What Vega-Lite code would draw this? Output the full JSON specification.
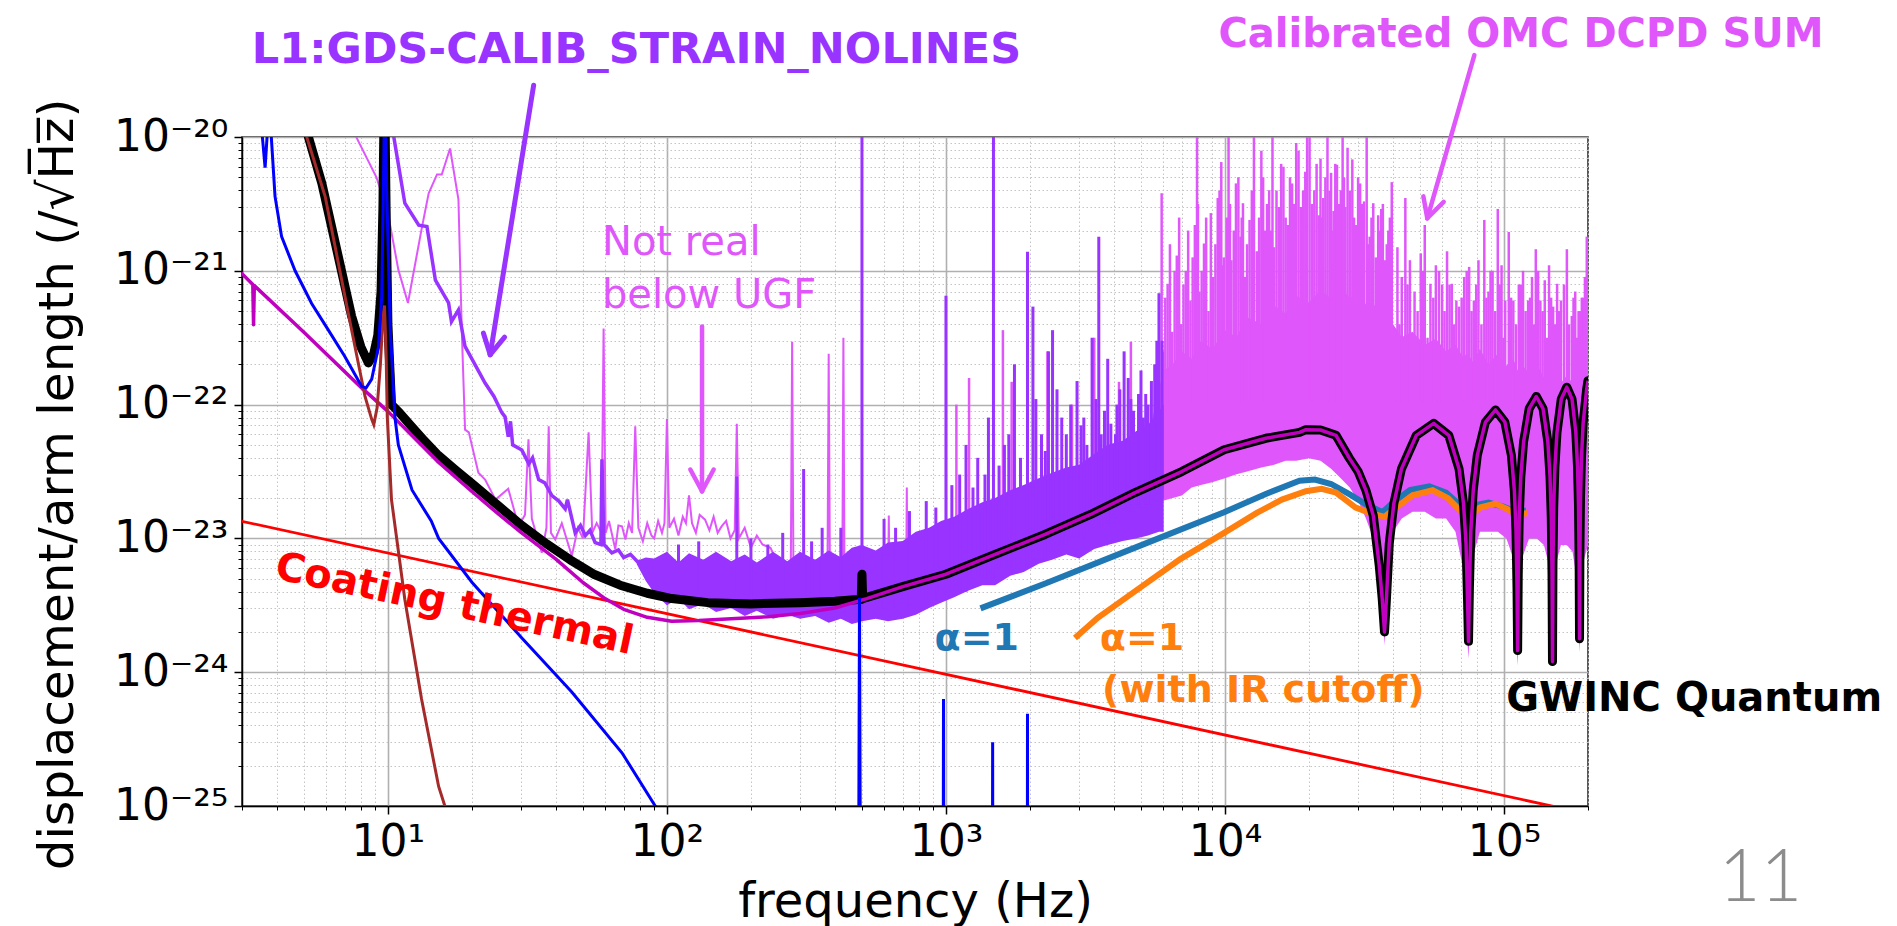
{
"$schema": "https://vega.github.io/schema/vega-lite/v6.json",
"width": 1346,
"height": 669,
"autosize": {"type": "none"},
"padding": {"left": 242, "top": 137, "right": 309, "bottom": 120},
"background": "white",
"config": {"font": "DejaVu Sans", "view": {"stroke": "#222222", "strokeWidth": 1.5}},
"datasets": {
"coating": [{"f":2.96,"h":1.35e-23},{"f":200000,"h":8.73e-26}],
"seismic": [{"f":4.8,"h":1.6e-20},{"f":5.12,"h":1.0e-20},{"f":5.96,"h":3.59e-21},{"f":6.64,"h":1.15e-21},{"f":7.41,"h":3.63e-22},{"f":8.28,"h":1.15e-22},{"f":8.75,"h":7.76e-23},{"f":8.9,"h":7.08e-23},{"f":9.15,"h":9.5e-23},{"f":9.4,"h":2.0e-22},{"f":9.6,"h":4.5e-22},{"f":9.72,"h":5.5e-22},{"f":9.85,"h":2.5e-22},{"f":9.95,"h":8e-23},{"f":10.3,"h":1.95e-23},{"f":11.5,"h":3.5e-24},{"f":13.2,"h":6.3e-25},{"f":15.2,"h":1.4e-25},{"f":16.0,"h":1.0e-25},{"f":17.5,"h":5e-26}],
"susp": [{"f":3.45,"h":2e-20},{"f":3.55,"h":1.0e-20},{"f":3.63,"h":5.9e-21},{"f":3.71,"h":1.2e-20},{"f":3.76,"h":3e-20},{"f":3.81,"h":1.1e-20},{"f":3.94,"h":3.6e-21},{"f":4.16,"h":1.8e-21},{"f":4.65,"h":1.0e-21},{"f":5.33,"h":5.7e-22},{"f":6.12,"h":3.6e-22},{"f":7.0,"h":2.3e-22},{"f":8.05,"h":1.37e-22},{"f":8.35,"h":1.33e-22},{"f":8.75,"h":1.55e-22},{"f":9.25,"h":2.7e-22},{"f":9.5,"h":6.4e-22},{"f":9.63,"h":3.6e-21},{"f":9.75,"h":3e-20},{"f":9.9,"h":4e-21},{"f":10.2,"h":3.6e-22},{"f":10.6,"h":8.0e-23},{"f":10.9,"h":5.0e-23},{"f":12.2,"h":2.3e-23},{"f":14.3,"h":1.35e-23},{"f":15.2,"h":1.0e-23},{"f":20,"h":4.7e-24},{"f":30.2,"h":1.8e-24},{"f":45.6,"h":7.1e-25},{"f":69,"h":2.5e-25},{"f":90.8,"h":1.0e-25},{"f":130,"h":4e-26},{"f":484,"h":1e-27},{"f":490,"h":3.6e-24},{"f":496,"h":1e-27},{"f":975,"h":1e-27},{"f":980,"h":6.3e-25},{"f":985,"h":1e-27},{"f":1465,"h":1e-27},{"f":1470,"h":3.0e-25},{"f":1475,"h":1e-27},{"f":1955,"h":1e-27},{"f":1960,"h":4.9e-25},{"f":1965,"h":1e-27},{"f":200000,"h":1e-27}],
"total": [{"f":4.9,"h":2e-20},{"f":5.19,"h":1.0e-20},{"f":5.8,"h":4.5e-21},{"f":6.64,"h":1.28e-21},{"f":7.41,"h":4.6e-22},{"f":8.0,"h":2.7e-22},{"f":8.51,"h":2.05e-22},{"f":8.9,"h":2.4e-22},{"f":9.2,"h":3.3e-22},{"f":9.45,"h":7e-22},{"f":9.6,"h":3e-21},{"f":9.72,"h":3e-20},{"f":9.85,"h":3e-21},{"f":10.0,"h":4e-22},{"f":10.3,"h":1.0e-22},{"f":11,"h":8.71e-23},{"f":12,"h":7.08e-23},{"f":13.5,"h":5.37e-23},{"f":15,"h":4.27e-23},{"f":17.5,"h":3.24e-23},{"f":20,"h":2.57e-23},{"f":25,"h":1.74e-23},{"f":30,"h":1.26e-23},{"f":37,"h":9.12e-24},{"f":45,"h":6.92e-24},{"f":55,"h":5.37e-24},{"f":68,"h":4.47e-24},{"f":85,"h":3.89e-24},{"f":104,"h":3.55e-24},{"f":140,"h":3.31e-24},{"f":200,"h":3.24e-24},{"f":300,"h":3.31e-24},{"f":400,"h":3.39e-24},{"f":483,"h":3.5e-24},{"f":497,"h":3.5e-24},{"f":500,"h":5.4e-24},{"f":503,"h":3.55e-24},{"f":700,"h":4.36e-24},{"f":1000,"h":5.4e-24},{"f":1500,"h":7.6e-24},{"f":2265,"h":1.07e-23},{"f":3300,"h":1.51e-23},{"f":4764,"h":2.2e-23},{"f":7000,"h":3.16e-23},{"f":9930,"h":4.6e-23},{"f":14000,"h":5.6e-23},{"f":18500,"h":6.2e-23},{"f":19500,"h":6.5e-23},{"f":22000,"h":6.46e-23},{"f":25000,"h":5.89e-23},{"f":27900,"h":3.98e-23},{"f":30000,"h":3.16e-23},{"f":32000,"h":2.29e-23},{"f":34000,"h":1.48e-23},{"f":35700,"h":6.31e-24},{"f":36600,"h":3.55e-24},{"f":37300,"h":2.0e-24},{"f":37860,"h":3.39e-24},{"f":38790,"h":9.12e-24},{"f":40280,"h":1.82e-23},{"f":42900,"h":3.31e-23},{"f":48500,"h":5.89e-23},{"f":55950,"h":7.24e-23},{"f":63400,"h":5.89e-23},{"f":69000,"h":3.31e-23},{"f":71600,"h":1.82e-23},{"f":73100,"h":9.12e-24},{"f":74040,"h":3.39e-24},{"f":74600,"h":1.70e-24},{"f":75160,"h":4.27e-24},{"f":76090,"h":1.15e-23},{"f":77580,"h":2.29e-23},{"f":80200,"h":4.17e-23},{"f":85800,"h":7.41e-23},{"f":93250,"h":9.12e-23},{"f":100700,"h":7.41e-23},{"f":106300,"h":4.17e-23},{"f":108900,"h":2.29e-23},{"f":110400,"h":1.15e-23},{"f":111340,"h":4.27e-24},{"f":111900,"h":1.45e-24},{"f":112460,"h":5.37e-24},{"f":113390,"h":1.45e-23},{"f":114880,"h":2.88e-23},{"f":117500,"h":5.25e-23},{"f":123100,"h":9.33e-23},{"f":130550,"h":1.15e-22},{"f":138000,"h":9.33e-23},{"f":143600,"h":5.25e-23},{"f":146200,"h":2.88e-23},{"f":147700,"h":1.45e-23},{"f":148640,"h":5.37e-24},{"f":149200,"h":1.20e-24},{"f":149760,"h":6.31e-24},{"f":150690,"h":1.70e-23},{"f":152200,"h":3.39e-23},{"f":154800,"h":6.17e-23},{"f":160400,"h":1.10e-22},{"f":167850,"h":1.35e-22},{"f":175300,"h":1.10e-22},{"f":180900,"h":6.17e-23},{"f":183500,"h":3.39e-23},{"f":185000,"h":1.70e-23},{"f":185940,"h":6.31e-24},{"f":186500,"h":1.78e-24},{"f":187060,"h":7.41e-24},{"f":188000,"h":2.0e-23},{"f":189500,"h":3.98e-23},{"f":192100,"h":7.24e-23},{"f":197700,"h":1.29e-22},{"f":200000,"h":1.51e-22}],
"quantum": [{"f":2.96,"h":9.8e-22},{"f":3.28,"h":7.9e-22},{"f":3.3,"h":3.95e-22},{"f":3.32,"h":7.75e-22},{"f":5,"h":3.47e-22},{"f":8,"h":1.35e-22},{"f":10,"h":8.9e-23},{"f":15,"h":3.8e-23},{"f":20,"h":2.24e-23},{"f":25,"h":1.51e-23},{"f":30,"h":1.11e-23},{"f":40,"h":7.0e-24},{"f":50,"h":4.68e-24},{"f":60,"h":3.55e-24},{"f":70,"h":2.95e-24},{"f":85,"h":2.57e-24},{"f":104,"h":2.4e-24},{"f":130,"h":2.43e-24},{"f":170,"h":2.51e-24},{"f":230,"h":2.6e-24},{"f":300,"h":2.75e-24},{"f":400,"h":3.02e-24},{"f":520,"h":3.55e-24},{"f":700,"h":4.36e-24},{"f":1000,"h":5.4e-24},{"f":1500,"h":7.6e-24},{"f":2265,"h":1.07e-23},{"f":3300,"h":1.51e-23},{"f":4764,"h":2.2e-23},{"f":7000,"h":3.16e-23},{"f":9930,"h":4.6e-23},{"f":14000,"h":5.6e-23},{"f":18500,"h":6.2e-23},{"f":19500,"h":6.5e-23},{"f":22000,"h":6.46e-23},{"f":25000,"h":5.89e-23},{"f":27900,"h":3.98e-23},{"f":30000,"h":3.16e-23},{"f":32000,"h":2.29e-23},{"f":34000,"h":1.48e-23},{"f":35700,"h":6.31e-24},{"f":36600,"h":3.55e-24},{"f":37300,"h":2.0e-24},{"f":37860,"h":3.39e-24},{"f":38790,"h":9.12e-24},{"f":40280,"h":1.82e-23},{"f":42900,"h":3.31e-23},{"f":48500,"h":5.89e-23},{"f":55950,"h":7.24e-23},{"f":63400,"h":5.89e-23},{"f":69000,"h":3.31e-23},{"f":71600,"h":1.82e-23},{"f":73100,"h":9.12e-24},{"f":74040,"h":3.39e-24},{"f":74600,"h":1.70e-24},{"f":75160,"h":4.27e-24},{"f":76090,"h":1.15e-23},{"f":77580,"h":2.29e-23},{"f":80200,"h":4.17e-23},{"f":85800,"h":7.41e-23},{"f":93250,"h":9.12e-23},{"f":100700,"h":7.41e-23},{"f":106300,"h":4.17e-23},{"f":108900,"h":2.29e-23},{"f":110400,"h":1.15e-23},{"f":111340,"h":4.27e-24},{"f":111900,"h":1.45e-24},{"f":112460,"h":5.37e-24},{"f":113390,"h":1.45e-23},{"f":114880,"h":2.88e-23},{"f":117500,"h":5.25e-23},{"f":123100,"h":9.33e-23},{"f":130550,"h":1.15e-22},{"f":138000,"h":9.33e-23},{"f":143600,"h":5.25e-23},{"f":146200,"h":2.88e-23},{"f":147700,"h":1.45e-23},{"f":148640,"h":5.37e-24},{"f":149200,"h":1.20e-24},{"f":149760,"h":6.31e-24},{"f":150690,"h":1.70e-23},{"f":152200,"h":3.39e-23},{"f":154800,"h":6.17e-23},{"f":160400,"h":1.10e-22},{"f":167850,"h":1.35e-22},{"f":175300,"h":1.10e-22},{"f":180900,"h":6.17e-23},{"f":183500,"h":3.39e-23},{"f":185000,"h":1.70e-23},{"f":185940,"h":6.31e-24},{"f":186500,"h":1.78e-24},{"f":187060,"h":7.41e-24},{"f":188000,"h":2.0e-23},{"f":189500,"h":3.98e-23},{"f":192100,"h":7.24e-23},{"f":197700,"h":1.29e-22},{"f":200000,"h":1.51e-22}],
"pinkLine": [{"f":7.0,"h":3e-20},{"f":7.7,"h":1.0e-20},{"f":9.1,"h":5.0e-21},{"f":10.0,"h":2.7e-21},{"f":10.9,"h":1.02e-21},{"f":11.8,"h":5.75e-22},{"f":13.2,"h":2.04e-21},{"f":14.0,"h":3.8e-21},{"f":15.0,"h":5.25e-21},{"f":15.6,"h":5.25e-21},{"f":16.7,"h":8.2e-21},{"f":17.9,"h":3.4e-21},{"f":18.4,"h":3.6e-22},{"f":18.9,"h":6.5e-23},{"f":19.5,"h":6.2e-23},{"f":21.1,"h":3.1e-23},{"f":22.3,"h":2.75e-23},{"f":24.3,"h":1.95e-23},{"f":27,"h":2.35e-23},{"f":29.4,"h":1.23e-23},{"f":31.0,"h":1.5e-23},{"f":31.9,"h":5.5e-23},{"f":32.8,"h":1.4e-23},{"f":35.6,"h":7.8e-24},{"f":37,"h":1.2e-23},{"f":37.7,"h":6.9e-23},{"f":38.4,"h":1.1e-23},{"f":39.8,"h":9.8e-24},{"f":42,"h":1.3e-23},{"f":45.6,"h":7.4e-24},{"f":48,"h":1.2e-23},{"f":50,"h":1.0e-23},{"f":52.4,"h":6.2e-23},{"f":54,"h":1.1e-23},{"f":56,"h":1.3e-23},{"f":58.3,"h":1.1e-23},{"f":59.3,"h":3.7e-22},{"f":60.3,"h":1.1e-23},{"f":62,"h":1.35e-23},{"f":65.3,"h":8.3e-24},{"f":67,"h":1.25e-23},{"f":69,"h":1.23e-23},{"f":71,"h":9.8e-24},{"f":73,"h":1.3e-23},{"f":75,"h":1.1e-23},{"f":77,"h":6.9e-23},{"f":79,"h":1.2e-23},{"f":82,"h":9.5e-24},{"f":85,"h":1.3e-23},{"f":88,"h":1.05e-23},{"f":90,"h":1.0e-23},{"f":93,"h":1.35e-23},{"f":96,"h":1.1e-23},{"f":98,"h":1.3e-23},{"f":100,"h":7.8e-23},{"f":102,"h":1.2e-23},{"f":106,"h":1.4e-23},{"f":110,"h":1.05e-23},{"f":114,"h":1.45e-23},{"f":117,"h":1.3e-23},{"f":120,"h":2.1e-23},{"f":123,"h":1.3e-23},{"f":127,"h":1.1e-23},{"f":131,"h":1.5e-23},{"f":137,"h":1.38e-23},{"f":142,"h":1.15e-23},{"f":147,"h":1.45e-23},{"f":152,"h":1.1e-23},{"f":157,"h":1.23e-23},{"f":163,"h":1.35e-23},{"f":169,"h":1.0e-23},{"f":175,"h":1.15e-23},{"f":178,"h":7.2e-23},{"f":181,"h":1.0e-23},{"f":190,"h":1.2e-23},{"f":200,"h":8.5e-24},{"f":210,"h":1.05e-23},{"f":220,"h":9e-24},{"f":235,"h":8.5e-24},{"f":250,"h":6.5e-24},{"f":260,"h":7e-24},{"f":278,"h":6e-24},{"f":281,"h":2.95e-22},{"f":284,"h":6e-24},{"f":330,"h":5e-24},{"f":376,"h":4.5e-24},{"f":380,"h":2.4e-22},{"f":384,"h":4.5e-24},{"f":425,"h":4.2e-24},{"f":429,"h":3.16e-22},{"f":433,"h":4.2e-24},{"f":500,"h":4e-24},{"f":620,"h":4e-24},{"f":624,"h":1.48e-23},{"f":628,"h":4.2e-24},{"f":720,"h":4.5e-24},{"f":724,"h":2.4e-23},{"f":728,"h":4.6e-24},{"f":1000,"h":5.5e-24},{"f":2000,"h":1.0e-23},{"f":3000,"h":1.4e-23},{"f":4000,"h":1.9e-23},{"f":5600,"h":2.6e-23}],
"pinkBand": [{"f":5500,"lo":1.78e-23,"hi":7.94e-23},{"f":6000,"lo":1.91e-23,"hi":1.78e-22},{"f":6500,"lo":2.0e-23,"hi":2.0e-22},{"f":7000,"lo":2.09e-23,"hi":2.5e-22},{"f":7600,"lo":2.40e-23,"hi":2.2e-22},{"f":8200,"lo":2.51e-23,"hi":3.0e-22},{"f":9000,"lo":2.63e-23,"hi":2.6e-22},{"f":10000,"lo":2.82e-23,"hi":3.6e-22},{"f":11000,"lo":3.02e-23,"hi":3.2e-22},{"f":12000,"lo":3.16e-23,"hi":4.5e-22},{"f":13500,"lo":3.39e-23,"hi":4.0e-22},{"f":15000,"lo":3.55e-23,"hi":5.5e-22},{"f":16500,"lo":3.80e-23,"hi":4.8e-22},{"f":18000,"lo":3.80e-23,"hi":6.5e-22},{"f":20000,"lo":3.98e-23,"hi":5.8e-22},{"f":22000,"lo":3.80e-23,"hi":7.2e-22},{"f":24000,"lo":3.31e-23,"hi":6.2e-22},{"f":26000,"lo":2.82e-23,"hi":7.5e-22},{"f":28000,"lo":2.40e-23,"hi":6.3e-22},{"f":30000,"lo":1.91e-23,"hi":6.8e-22},{"f":32000,"lo":1.41e-23,"hi":5.6e-22},{"f":34000,"lo":1.0e-23,"hi":5.8e-22},{"f":36000,"lo":5.01e-24,"hi":4.5e-22},{"f":37300,"lo":1.58e-24,"hi":4.2e-22},{"f":38500,"lo":6.31e-24,"hi":3.6e-22},{"f":40000,"lo":1.12e-23,"hi":4.0e-22},{"f":43000,"lo":1.41e-23,"hi":3.2e-22},{"f":47000,"lo":1.58e-23,"hi":3.5e-22},{"f":52000,"lo":1.58e-23,"hi":2.8e-22},{"f":57000,"lo":1.41e-23,"hi":3.1e-22},{"f":62000,"lo":1.41e-23,"hi":2.5e-22},{"f":67000,"lo":1.12e-23,"hi":2.8e-22},{"f":71000,"lo":6.31e-24,"hi":2.3e-22},{"f":74600,"lo":1.26e-24,"hi":2.4e-22},{"f":77000,"lo":7.08e-24,"hi":2.1e-22},{"f":82000,"lo":1.12e-23,"hi":2.6e-22},{"f":88000,"lo":1.12e-23,"hi":2.0e-22},{"f":95000,"lo":1.12e-23,"hi":2.4e-22},{"f":102000,"lo":1.0e-23,"hi":1.95e-22},{"f":108000,"lo":7.08e-24,"hi":2.2e-22},{"f":111900,"lo":1.12e-24,"hi":1.8e-22},{"f":116000,"lo":7.08e-24,"hi":2.0e-22},{"f":123000,"lo":1.0e-23,"hi":1.7e-22},{"f":131000,"lo":1.0e-23,"hi":2.0e-22},{"f":139000,"lo":8.91e-24,"hi":1.6e-22},{"f":145000,"lo":6.31e-24,"hi":1.85e-22},{"f":149200,"lo":1.12e-24,"hi":1.55e-22},{"f":153000,"lo":6.31e-24,"hi":1.7e-22},{"f":160000,"lo":8.91e-24,"hi":1.45e-22},{"f":168000,"lo":8.91e-24,"hi":1.65e-22},{"f":176000,"lo":7.94e-24,"hi":1.45e-22},{"f":182000,"lo":5.01e-24,"hi":1.55e-22},{"f":186500,"lo":1.41e-24,"hi":1.35e-22},{"f":191000,"lo":6.31e-24,"hi":1.45e-22},{"f":200000,"lo":8.91e-24,"hi":1.45e-22}],
"pinkSpikes": [{"f":1090,"lo":1e-23,"hi":1.0e-22},{"f":1210,"lo":1e-23,"hi":1.58e-22},{"f":1600,"lo":1e-23,"hi":3.6e-22},{"f":1720,"lo":1e-23,"hi":1.48e-22},{"f":2310,"lo":1e-23,"hi":2.5e-22},{"f":2830,"lo":1e-23,"hi":1.0e-22},{"f":3400,"lo":1e-23,"hi":3.16e-22},{"f":4170,"lo":1e-23,"hi":1.48e-22},{"f":4600,"lo":1e-23,"hi":2.95e-22},{"f":5930,"lo":1e-22,"hi":3.8e-21},
{"f":6000,"lo":1e-22,"hi":2.5e-22},{"f":6110,"lo":1e-22,"hi":6.3e-22},{"f":6230,"lo":1e-22,"hi":8e-22},{"f":6350,"lo":1e-22,"hi":1.58e-21},{"f":6470,"lo":1e-22,"hi":3.5e-22},{"f":6600,"lo":1e-22,"hi":1.0e-21},{"f":6720,"lo":1e-22,"hi":1.3e-21},{"f":6850,"lo":1e-22,"hi":2.5e-21},{"f":6970,"lo":1e-22,"hi":4e-22},{"f":7100,"lo":1e-22,"hi":7.9e-22},{"f":7240,"lo":1e-22,"hi":1.0e-21},{"f":7380,"lo":1e-22,"hi":2.0e-21},{"f":7520,"lo":1e-22,"hi":6e-22},{"f":7660,"lo":1e-22,"hi":1.26e-21},{"f":7800,"lo":1e-22,"hi":2.2e-21},{"f":7940,"lo":1e-22,"hi":2e-20},{"f":8000,"lo":1e-22,"hi":3.16e-21},{"f":8100,"lo":1e-22,"hi":7e-22},{"f":8250,"lo":1e-22,"hi":1.0e-21},{"f":8410,"lo":1e-22,"hi":1.6e-21},{"f":8560,"lo":1e-22,"hi":2.5e-21},{"f":8730,"lo":1e-22,"hi":5e-22},{"f":8900,"lo":1e-22,"hi":2.7e-21},{"f":9070,"lo":1e-22,"hi":9e-22},{"f":9240,"lo":1e-22,"hi":1.58e-21},{"f":9420,"lo":1e-22,"hi":3.5e-21},{"f":9560,"lo":1e-22,"hi":3.98e-21},{"f":9700,"lo":1e-22,"hi":6.5e-21},{"f":9780,"lo":1e-22,"hi":1.1e-21},{"f":9900,"lo":1e-22,"hi":1.26e-21},{"f":10150,"lo":1e-22,"hi":2.5e-21},{"f":10300,"lo":1e-22,"hi":2e-20},{"f":10420,"lo":1e-22,"hi":3.16e-21},{"f":10540,"lo":1e-22,"hi":1.2e-21},{"f":10750,"lo":1e-22,"hi":2.0e-21},{"f":10950,"lo":1e-22,"hi":4.5e-21},{"f":11170,"lo":1e-22,"hi":5.0e-21},{"f":11370,"lo":1e-22,"hi":1.8e-21},{"f":11480,"lo":1e-22,"hi":2.5e-21},{"f":11600,"lo":1e-22,"hi":3.2e-21},{"f":11800,"lo":1e-22,"hi":9e-22},{"f":12000,"lo":1e-22,"hi":1.58e-21},{"f":12250,"lo":1e-22,"hi":2.4e-21},{"f":12480,"lo":1e-22,"hi":3.98e-21},{"f":12700,"lo":1e-22,"hi":2e-20},{"f":13000,"lo":1e-22,"hi":1.4e-21},{"f":13250,"lo":1e-22,"hi":2.5e-21},{"f":13500,"lo":1e-22,"hi":7.9e-21},{"f":13700,"lo":1e-22,"hi":5.0e-21},{"f":13900,"lo":1e-22,"hi":2e-21},{"f":14150,"lo":1e-22,"hi":3.16e-21},{"f":14400,"lo":1e-22,"hi":4e-21},{"f":14600,"lo":1e-22,"hi":2.0e-21},{"f":14800,"lo":1e-22,"hi":2e-20},{"f":15000,"lo":1e-22,"hi":1.5e-21},{"f":15300,"lo":1e-22,"hi":3.98e-21},{"f":15600,"lo":1e-22,"hi":3e-21},{"f":15900,"lo":1e-22,"hi":6.3e-21},{"f":16200,"lo":1e-22,"hi":6e-21},{"f":16500,"lo":1e-22,"hi":2.5e-21},{"f":16800,"lo":1e-22,"hi":2.2e-21},{"f":17100,"lo":1e-22,"hi":5.0e-21},{"f":17400,"lo":1e-22,"hi":4.5e-21},{"f":17700,"lo":1e-22,"hi":3.16e-21},{"f":18000,"lo":1e-22,"hi":9e-21},{"f":18350,"lo":1e-22,"hi":7.9e-21},{"f":18700,"lo":1e-22,"hi":3e-21},{"f":19050,"lo":1e-22,"hi":3.98e-21},{"f":19400,"lo":1e-22,"hi":5.5e-21},{"f":19700,"lo":1e-22,"hi":2e-20},{"f":20100,"lo":1e-22,"hi":2e-20},{"f":20500,"lo":1e-22,"hi":3.16e-21},{"f":20900,"lo":1e-22,"hi":4e-21},{"f":21300,"lo":1e-22,"hi":6.3e-21},{"f":21700,"lo":1e-22,"hi":2.6e-21},{"f":22000,"lo":1e-22,"hi":6.9e-21},{"f":22250,"lo":1e-22,"hi":2.5e-21},{"f":22500,"lo":1e-22,"hi":3.5e-21},{"f":22900,"lo":1e-22,"hi":5.0e-21},{"f":23300,"lo":1e-22,"hi":1.1e-20},{"f":23700,"lo":1e-22,"hi":3.98e-21},{"f":24000,"lo":1e-22,"hi":5.4e-21},{"f":24250,"lo":1e-22,"hi":2.0e-21},{"f":24500,"lo":1e-22,"hi":2.8e-21},{"f":24850,"lo":1e-22,"hi":6.3e-21},{"f":25200,"lo":1e-22,"hi":6.2e-21},{"f":25600,"lo":1e-22,"hi":3.16e-21},{"f":26000,"lo":1e-22,"hi":4e-21},{"f":26400,"lo":1e-22,"hi":2e-20},{"f":26700,"lo":1e-22,"hi":5.0e-21},{"f":27000,"lo":1e-22,"hi":3e-21},{"f":27500,"lo":1e-22,"hi":8.3e-21},{"f":28000,"lo":1e-22,"hi":3.98e-21},{"f":28600,"lo":1e-22,"hi":6.8e-21},{"f":29000,"lo":1e-22,"hi":2.5e-21},{"f":29500,"lo":1e-22,"hi":2.2e-21},{"f":30000,"lo":1e-22,"hi":5.0e-21},{"f":30500,"lo":1e-22,"hi":4.5e-21},{"f":31000,"lo":1e-22,"hi":3.16e-21},{"f":31500,"lo":1e-22,"hi":3.3e-21},{"f":32200,"lo":1e-22,"hi":2e-20},{"f":32600,"lo":1e-22,"hi":1.58e-21},{"f":33000,"lo":1e-22,"hi":1.8e-21},{"f":33500,"lo":1e-22,"hi":2.5e-21},{"f":34000,"lo":1e-22,"hi":3.2e-21},{"f":34700,"lo":1e-22,"hi":1.26e-21},{"f":35400,"lo":1e-22,"hi":2.6e-21},{"f":35800,"lo":1e-22,"hi":2.0e-21},{"f":36300,"lo":1e-22,"hi":2.9e-21},{"f":36800,"lo":1e-22,"hi":3.16e-21},{"f":37500,"lo":1e-22,"hi":1.2e-21},{"f":38000,"lo":1e-22,"hi":1.58e-21},{"f":38500,"lo":1e-22,"hi":2e-21},{"f":39000,"lo":1e-22,"hi":2.5e-21},{"f":39600,"lo":1e-22,"hi":4.6e-21},
{"f":41500,"lo":1e-22,"hi":1.5e-21},{"f":42200,"lo":1e-22,"hi":3.98e-22},{"f":43000,"lo":1e-22,"hi":9e-22},{"f":44300,"lo":1e-22,"hi":3.5e-21},{"f":45100,"lo":1e-22,"hi":7.9e-22},{"f":46000,"lo":1e-22,"hi":1.2e-21},{"f":47800,"lo":1e-22,"hi":7e-22},{"f":49000,"lo":1e-22,"hi":5.0e-22},{"f":50300,"lo":1e-22,"hi":1.35e-21},{"f":51200,"lo":1e-22,"hi":1.0e-21},{"f":52000,"lo":1e-22,"hi":2.2e-21},{"f":53200,"lo":1e-22,"hi":3.16e-22},{"f":54500,"lo":1e-22,"hi":8e-22},{"f":55800,"lo":1e-22,"hi":6.3e-22},{"f":57000,"lo":1e-22,"hi":1.1e-21},{"f":58500,"lo":1e-22,"hi":1.0e-21},{"f":60000,"lo":1e-22,"hi":7.9e-22},{"f":61200,"lo":1e-22,"hi":5.0e-22},{"f":62500,"lo":1e-22,"hi":1.4e-21},{"f":63800,"lo":1e-22,"hi":7.9e-22},{"f":65000,"lo":1e-22,"hi":8e-22},{"f":66300,"lo":1e-22,"hi":3.98e-22},{"f":67500,"lo":1e-22,"hi":6e-22},{"f":69000,"lo":1e-22,"hi":5.4e-22},{"f":70500,"lo":1e-22,"hi":6.3e-22},{"f":72000,"lo":1e-22,"hi":9e-22},{"f":73500,"lo":1e-22,"hi":1.0e-21},{"f":75000,"lo":1e-22,"hi":1.07e-21},{"f":76500,"lo":1e-22,"hi":5.0e-22},{"f":78000,"lo":1e-22,"hi":6e-22},{"f":79500,"lo":1e-22,"hi":7.9e-22},{"f":81000,"lo":1e-22,"hi":1.2e-21},{"f":83000,"lo":1e-22,"hi":3.98e-22},{"f":85000,"lo":1e-22,"hi":2.4e-21},{"f":86500,"lo":1e-22,"hi":6.3e-22},{"f":88000,"lo":1e-22,"hi":7e-22},{"f":89500,"lo":1e-22,"hi":1.0e-21},{"f":91000,"lo":1e-22,"hi":1.0e-21},{"f":93000,"lo":1e-22,"hi":5.0e-22},{"f":95000,"lo":1e-22,"hi":2.9e-21},{"f":96500,"lo":1e-22,"hi":7.9e-22},{"f":98000,"lo":1e-22,"hi":1.1e-21},{"f":99500,"lo":1e-22,"hi":3.16e-22},{"f":101000,"lo":1e-22,"hi":6e-22},{"f":104000,"lo":1e-22,"hi":1.95e-21},{"f":106000,"lo":1e-22,"hi":6.3e-22},{"f":108000,"lo":1e-22,"hi":6e-22},{"f":110500,"lo":1e-22,"hi":3.98e-22},{"f":113000,"lo":1e-22,"hi":7.9e-22},{"f":115000,"lo":1e-22,"hi":7.9e-22},{"f":117000,"lo":1e-22,"hi":1.0e-21},{"f":119500,"lo":1e-22,"hi":5.0e-22},{"f":122000,"lo":1e-22,"hi":6e-22},{"f":124000,"lo":1e-22,"hi":6.3e-22},{"f":126000,"lo":1e-22,"hi":9e-22},{"f":128000,"lo":1e-22,"hi":3.98e-22},{"f":130000,"lo":1e-22,"hi":1.45e-21},{"f":132500,"lo":1e-22,"hi":1.0e-21},{"f":135000,"lo":1e-22,"hi":6e-22},{"f":137500,"lo":1e-22,"hi":5.0e-22},{"f":140000,"lo":1e-22,"hi":8.5e-22},{"f":142500,"lo":1e-22,"hi":3.16e-22},{"f":145000,"lo":1e-22,"hi":1.1e-21},{"f":147500,"lo":1e-22,"hi":6.3e-22},{"f":150000,"lo":1e-22,"hi":5.4e-22},{"f":152500,"lo":1e-22,"hi":3.98e-22},{"f":155000,"lo":1e-22,"hi":8e-22},{"f":157500,"lo":1e-22,"hi":5.0e-22},{"f":160000,"lo":1e-22,"hi":6e-22},{"f":164000,"lo":1e-22,"hi":7.9e-22},{"f":168000,"lo":1e-22,"hi":1.45e-21},{"f":171000,"lo":1e-22,"hi":3.98e-22},{"f":175000,"lo":1e-22,"hi":4.6e-22},{"f":177500,"lo":1e-22,"hi":6.3e-22},{"f":180000,"lo":1e-22,"hi":7e-22},{"f":183000,"lo":1e-22,"hi":3.16e-22},{"f":185000,"lo":1e-22,"hi":5e-22},{"f":187500,"lo":1e-22,"hi":5.0e-22},{"f":190000,"lo":1e-22,"hi":6.3e-22},{"f":192500,"lo":1e-22,"hi":6.3e-22},{"f":195000,"lo":1e-22,"hi":9e-22},{"f":198000,"lo":1e-22,"hi":1.8e-21}],
"purpleLine": [{"f":10.3,"h":2e-20},{"f":10.5,"h":1.0e-20},{"f":11.5,"h":3.2e-21},{"f":12.9,"h":2.19e-21},{"f":13.8,"h":2.14e-21},{"f":14.8,"h":8.5e-22},{"f":16.5,"h":5.75e-22},{"f":16.9,"h":4.17e-22},{"f":17.9,"h":5.1e-22},{"f":18.9,"h":2.72e-22},{"f":20.5,"h":2.0e-22},{"f":22.3,"h":1.45e-22},{"f":24.0,"h":1.15e-22},{"f":25.6,"h":8.7e-23},{"f":26.3,"h":8.1e-23},{"f":27.0,"h":5.75e-23},{"f":27.5,"h":7.5e-23},{"f":28.0,"h":5.0e-23},{"f":30.2,"h":4.57e-23},{"f":32,"h":3.6e-23},{"f":33,"h":4.0e-23},{"f":34.7,"h":2.75e-23},{"f":36.5,"h":2.6e-23},{"f":38.7,"h":2.09e-23},{"f":41,"h":1.9e-23},{"f":43.2,"h":1.66e-23},{"f":44.0,"h":1.95e-23},{"f":46.9,"h":1.1e-23},{"f":49,"h":1.25e-23},{"f":51,"h":1.05e-23},{"f":53,"h":1.15e-23},{"f":55.3,"h":9.3e-24},{"f":58,"h":9e-24},{"f":58.5,"h":3.9e-23},{"f":59.5,"h":9e-24},{"f":63.5,"h":7.8e-24},{"f":67,"h":8.2e-24},{"f":70,"h":7.2e-24},{"f":74,"h":7.6e-24},{"f":79,"h":6.6e-24},{"f":84,"h":6.4e-24},{"f":90.8,"h":5.6e-24}],
"purpleBand": [{"f":78,"lo":6.4e-24,"hi":6.8e-24},{"f":84,"lo":4.8e-24,"hi":7.2e-24},{"f":90,"lo":3.9e-24,"hi":7.08e-24},{"f":100,"lo":3.16e-24,"hi":7.94e-24},{"f":110,"lo":3.55e-24,"hi":6.61e-24},{"f":120,"lo":2.95e-24,"hi":7.76e-24},{"f":135,"lo":3.24e-24,"hi":6.92e-24},{"f":150,"lo":2.82e-24,"hi":7.94e-24},{"f":170,"lo":3.02e-24,"hi":6.76e-24},{"f":190,"lo":2.63e-24,"hi":7.59e-24},{"f":210,"lo":2.88e-24,"hi":6.61e-24},{"f":240,"lo":2.51e-24,"hi":7.94e-24},{"f":270,"lo":2.69e-24,"hi":6.76e-24},{"f":300,"lo":2.51e-24,"hi":7.94e-24},{"f":340,"lo":2.63e-24,"hi":6.92e-24},{"f":380,"lo":2.34e-24,"hi":8.13e-24},{"f":420,"lo":2.51e-24,"hi":7.24e-24},{"f":460,"lo":2.29e-24,"hi":8.51e-24},{"f":500,"lo":2.40e-24,"hi":8.91e-24},{"f":560,"lo":2.51e-24,"hi":8.13e-24},{"f":620,"lo":2.40e-24,"hi":9.33e-24},{"f":700,"lo":2.51e-24,"hi":9.55e-24},{"f":780,"lo":2.69e-24,"hi":1.12e-23},{"f":870,"lo":3.02e-24,"hi":1.2e-23},{"f":960,"lo":3.31e-24,"hi":1.35e-23},{"f":1070,"lo":3.63e-24,"hi":1.45e-23},{"f":1200,"lo":4.07e-24,"hi":1.66e-23},{"f":1350,"lo":4.47e-24,"hi":1.86e-23},{"f":1500,"lo":4.47e-24,"hi":2.0e-23},{"f":1700,"lo":5.25e-24,"hi":2.29e-23},{"f":1900,"lo":5.62e-24,"hi":2.51e-23},{"f":2150,"lo":6.46e-24,"hi":2.82e-23},{"f":2400,"lo":6.92e-24,"hi":3.09e-23},{"f":2700,"lo":7.59e-24,"hi":3.39e-23},{"f":3000,"lo":7.08e-24,"hi":3.55e-23},{"f":3400,"lo":8.32e-24,"hi":4.27e-23},{"f":3800,"lo":8.91e-24,"hi":5.01e-23},{"f":4300,"lo":9.55e-24,"hi":5.37e-23},{"f":4800,"lo":1.0e-23,"hi":6.31e-23},{"f":5300,"lo":1.05e-23,"hi":7.08e-23},{"f":5800,"lo":1.12e-23,"hi":8.91e-23},{"f":6030,"lo":1.12e-23,"hi":1.0e-22}],
"purpleSpikes": [{"f":110,"lo":4e-24,"hi":9e-24},{"f":130,"lo":4e-24,"hi":9.5e-24},{"f":178,"lo":3.2e-24,"hi":2.9e-23},{"f":200,"lo":3e-24,"hi":1.0e-23},{"f":230,"lo":3e-24,"hi":9e-24},{"f":260,"lo":3e-24,"hi":1.1e-23},{"f":309,"lo":3.0e-24,"hi":3.3e-23},{"f":330,"lo":3e-24,"hi":9.5e-24},{"f":360,"lo":3e-24,"hi":1.2e-23},{"f":420,"lo":3e-24,"hi":1.2e-23},{"f":500,"lo":3e-24,"hi":2e-20},{"f":600,"lo":3e-24,"hi":1.4e-23},{"f":660,"lo":3e-24,"hi":1.2e-23},{"f":740,"lo":3e-24,"hi":1.6e-23},{"f":850,"lo":3.5e-24,"hi":1.9e-23},{"f":920,"lo":3.5e-24,"hi":1.7e-23},{"f":1000,"lo":4e-24,"hi":6.5e-22},{"f":1050,"lo":4e-24,"hi":2.5e-23},{"f":1120,"lo":4e-24,"hi":3e-23},{"f":1180,"lo":4e-24,"hi":5e-23},{"f":1250,"lo":5e-24,"hi":2.4e-23},{"f":1300,"lo":5e-24,"hi":4e-23},{"f":1380,"lo":5e-24,"hi":3e-23},{"f":1420,"lo":5e-24,"hi":8e-23},{"f":1480,"lo":5e-24,"hi":2e-20},{"f":1550,"lo":6e-24,"hi":3.5e-23},{"f":1620,"lo":6e-24,"hi":5e-23},{"f":1680,"lo":6e-24,"hi":6e-23},{"f":1760,"lo":6e-24,"hi":2.0e-22},{"f":1850,"lo":6e-24,"hi":4e-23},{"f":1960,"lo":6e-24,"hi":1.39e-21},{"f":2050,"lo":7e-24,"hi":5.4e-22},{"f":2100,"lo":7e-24,"hi":1.1e-22},{"f":2200,"lo":7e-24,"hi":6e-23},{"f":2270,"lo":7e-24,"hi":4.5e-23},{"f":2330,"lo":8e-24,"hi":2.5e-22},{"f":2410,"lo":8e-24,"hi":3.6e-22},{"f":2500,"lo":8e-24,"hi":1.3e-22},{"f":2600,"lo":9e-24,"hi":8e-23},{"f":2700,"lo":9e-24,"hi":6e-23},{"f":2800,"lo":1e-23,"hi":1.0e-22},{"f":2950,"lo":1e-23,"hi":1.5e-22},{"f":3050,"lo":1e-23,"hi":7e-23},{"f":3120,"lo":1e-23,"hi":8e-23},{"f":3200,"lo":1.1e-23,"hi":5e-23},{"f":3340,"lo":1.2e-23,"hi":3.16e-22},{"f":3450,"lo":1.2e-23,"hi":1.1e-22},{"f":3530,"lo":1.2e-23,"hi":1.8e-21},{"f":3600,"lo":1.2e-23,"hi":6e-23},{"f":3700,"lo":1.3e-23,"hi":9e-23},{"f":3800,"lo":1.3e-23,"hi":2.2e-22},{"f":3900,"lo":1.3e-23,"hi":7.2e-23},{"f":4050,"lo":1.4e-23,"hi":6e-23},{"f":4100,"lo":1.4e-23,"hi":1.0e-22},{"f":4200,"lo":1.5e-23,"hi":1.3e-22},{"f":4350,"lo":1.5e-23,"hi":2.5e-22},{"f":4500,"lo":1.6e-23,"hi":1.58e-22},{"f":4600,"lo":1.6e-23,"hi":1.1e-22},{"f":4700,"lo":1.6e-23,"hi":9e-23},{"f":4900,"lo":1.7e-23,"hi":1.2e-22},{"f":5000,"lo":1.7e-23,"hi":1.8e-22},{"f":5100,"lo":1.7e-23,"hi":8e-23},{"f":5200,"lo":1.8e-23,"hi":1.2e-22},{"f":5300,"lo":1.8e-23,"hi":1.0e-22},{"f":5450,"lo":1.8e-23,"hi":1.5e-22},{"f":5600,"lo":1.9e-23,"hi":2e-22},{"f":5700,"lo":1.9e-23,"hi":3e-22},{"f":5800,"lo":1.9e-23,"hi":6.8e-22},{"f":5950,"lo":2e-23,"hi":3e-22}],
"alpha": [{"f":1330,"h":3.0e-24},{"f":2270,"h":4.6e-24},{"f":4740,"h":8.5e-24},{"f":9930,"h":1.57e-23},{"f":14000,"h":2.15e-23},{"f":18500,"h":2.7e-23},{"f":21000,"h":2.75e-23},{"f":24000,"h":2.55e-23},{"f":27900,"h":2.14e-23},{"f":32000,"h":1.8e-23},{"f":36700,"h":1.57e-23},{"f":40000,"h":1.85e-23},{"f":46000,"h":2.3e-23},{"f":54000,"h":2.45e-23},{"f":62000,"h":2.2e-23},{"f":68000,"h":1.85e-23},{"f":73500,"h":1.57e-23},{"f":80000,"h":1.78e-23},{"f":88000,"h":1.85e-23},{"f":100000,"h":1.72e-23},{"f":111000,"h":1.57e-23},{"f":120000,"h":1.62e-23}],
"alphaIR": [{"f":2900,"h":1.8e-24},{"f":3500,"h":2.55e-24},{"f":4740,"h":4.0e-24},{"f":6920,"h":7.0e-24},{"f":9930,"h":1.1e-23},{"f":13000,"h":1.55e-23},{"f":16000,"h":1.95e-23},{"f":19500,"h":2.25e-23},{"f":22200,"h":2.35e-23},{"f":25000,"h":2.2e-23},{"f":29400,"h":1.7e-23},{"f":33000,"h":1.55e-23},{"f":37300,"h":1.45e-23},{"f":41000,"h":1.7e-23},{"f":47000,"h":2.1e-23},{"f":55500,"h":2.29e-23},{"f":63000,"h":2.0e-23},{"f":70000,"h":1.6e-23},{"f":74600,"h":1.45e-23},{"f":82000,"h":1.7e-23},{"f":93000,"h":1.82e-23},{"f":103000,"h":1.65e-23},{"f":112000,"h":1.5e-23},{"f":121600,"h":1.55e-23}],
"arrows": [{"id":"L1","f":33.3,"h":2.44e-20,"f2":23.26,"h2":2.36e-22},{"id":"L1","f":22.0,"h":3.42e-22,"f2":23.26,"h2":2.36e-22},{"id":"L1","f":26.2,"h":3.19e-22,"f2":23.26,"h2":2.36e-22},{"id":"DCPD","f":78300,"h":4.09e-20,"f2":53100,"h2":2.47e-21},{"id":"DCPD","f":51400,"h":3.6e-21,"f2":53100,"h2":2.47e-21},{"id":"DCPD","f":60800,"h":3.27e-21,"f2":53100,"h2":2.47e-21},{"id":"UGF","f":133.6,"h":3.84e-22,"f2":133.6,"h2":2.25e-23},{"id":"UGF","f":121.3,"h":3.27e-23,"f2":133.6,"h2":2.25e-23},{"id":"UGF","f":147.1,"h":3.27e-23,"f2":133.6,"h2":2.25e-23}],
"notes": [{"id":"L1","t":"L1:GDS-CALIB_STRAIN_NOLINES","f":77.8,"h":3.56e-20},{"id":"DCPD","t":"Calibrated OMC DCPD SUM","f":115000,"h":4.72e-20},{"id":"UGF","t":"Not real","f":58.5,"h":1.315e-21},{"id":"UGF","t":"below UGF","f":58.5,"h":5.27e-22},{"id":"coat","t":"Coating thermal","f":16.95,"h":2.62e-24},{"id":"a1","t":"α=1","f":910,"h":1.465e-24},{"id":"a2","t":"α=1","f":3561,"h":1.465e-24},{"id":"a2","t":"(with IR cutoff)","f":3626,"h":5.94e-25},{"id":"gw","t":"GWINC Quantum","f":101900,"h":5.14e-25},{"id":"page","t":"11","f":830000,"h":1.96e-26}]
},
"encoding": {
"x": {"field": "f", "type": "quantitative", "scale": {"type": "log", "domain": [3, 200000], "nice": false},
 "axis": {"values": [3,4,5,6,7,8,9,10,20,30,40,50,60,70,80,90,100,200,300,400,500,600,700,800,900,1000,2000,3000,4000,5000,6000,7000,8000,9000,10000,20000,30000,40000,50000,60000,70000,80000,90000,100000,200000],
  "title": "frequency (Hz)", "titleFont": "DejaVu Sans", "titleFontSize": 48, "titleFontWeight": "normal", "titleColor": "#000000",
  "titleX": 673, "titleY": 110, "titleAlign": "center", "titleBaseline": "alphabetic", "titleAngle": 0,
  "labelExpr": "abs(log(datum.value)/LN10 - round(log(datum.value)/LN10)) < 0.01 ? '10' + ['⁰','¹','²','³','⁴','⁵','⁶'][round(log(datum.value)/LN10)] : ''",
  "labelFont": "DejaVu Sans", "labelFontSize": 44, "labelColor": "#000000", "labelBaseline": "top", "labelPadding": 6, "labelOverlap": false, "labelFlush": false, "labelBound": false,
  "domainColor": "#000000", "domainWidth": 1.5, "tickColor": "#000000",
  "tickSize": {"condition": {"test": "abs(log(datum.value)/LN10 - round(log(datum.value)/LN10)) < 0.01", "value": 8}, "value": 4},
  "tickWidth": {"condition": {"test": "abs(log(datum.value)/LN10 - round(log(datum.value)/LN10)) < 0.01", "value": 1.5}, "value": 1},
  "grid": true,
  "gridColor": {"condition": {"test": "abs(log(datum.value)/LN10 - round(log(datum.value)/LN10)) < 0.01", "value": "#b0b0b0"}, "value": "#c4c4c4"},
  "gridWidth": {"condition": {"test": "abs(log(datum.value)/LN10 - round(log(datum.value)/LN10)) < 0.01", "value": 1.6}, "value": 1},
  "gridDash": {"condition": {"test": "abs(log(datum.value)/LN10 - round(log(datum.value)/LN10)) < 0.01", "value": [1, 0]}, "value": [1.5, 2.5]}
 }},
"y": {"field": "h", "type": "quantitative", "scale": {"type": "log", "domain": [1e-25, 1e-20], "nice": false},
 "axis": {"values": [1e-25,2e-25,3e-25,4e-25,5e-25,6e-25,7e-25,8e-25,9e-25,1e-24,2e-24,3e-24,4e-24,5e-24,6e-24,7e-24,8e-24,9e-24,1e-23,2e-23,3e-23,4e-23,5e-23,6e-23,7e-23,8e-23,9e-23,1e-22,2e-22,3e-22,4e-22,5e-22,6e-22,7e-22,8e-22,9e-22,1e-21,2e-21,3e-21,4e-21,5e-21,6e-21,7e-21,8e-21,9e-21,1e-20],
  "title": "displacement/arm length (/√H̅z̅)", "titleFont": "DejaVu Sans", "titleFontSize": 48.5, "titleFontWeight": "normal", "titleColor": "#000000",
  "titleX": -170, "titleY": 347, "titleAngle": 270, "titleAlign": "center", "titleBaseline": "alphabetic",
  "labelExpr": "abs(log(datum.value)/LN10 - round(log(datum.value)/LN10)) < 0.01 ? '10⁻²' + ['⁰','¹','²','³','⁴','⁵','⁶','⁷','⁸','⁹'][-round(log(datum.value)/LN10) - 20] : ''",
  "labelFont": "DejaVu Sans", "labelFontSize": 44, "labelColor": "#000000", "labelAlign": "right", "labelBaseline": "middle", "labelPadding": 6, "labelOverlap": false, "labelFlush": false, "labelBound": false,
  "domainColor": "#000000", "domainWidth": 1.5, "tickColor": "#000000",
  "tickSize": {"condition": {"test": "abs(log(datum.value)/LN10 - round(log(datum.value)/LN10)) < 0.01", "value": 8}, "value": 4},
  "tickWidth": {"condition": {"test": "abs(log(datum.value)/LN10 - round(log(datum.value)/LN10)) < 0.01", "value": 1.5}, "value": 1},
  "grid": true,
  "gridColor": {"condition": {"test": "abs(log(datum.value)/LN10 - round(log(datum.value)/LN10)) < 0.01", "value": "#b0b0b0"}, "value": "#c4c4c4"},
  "gridWidth": {"condition": {"test": "abs(log(datum.value)/LN10 - round(log(datum.value)/LN10)) < 0.01", "value": 1.6}, "value": 1},
  "gridDash": {"condition": {"test": "abs(log(datum.value)/LN10 - round(log(datum.value)/LN10)) < 0.01", "value": [1, 0]}, "value": [1.5, 2.5]}
 }}
},
"layer": [
{"data": {"name": "pinkLine"}, "mark": {"type": "line", "color": "#df57fb", "strokeWidth": 2, "clip": true}},
{"data": {"name": "pinkBand"}, "mark": {"type": "area", "color": "#df57fb", "opacity": 1, "clip": true},
 "encoding": {"y": {"field": "lo"}, "y2": {"field": "hi"}}},
{"data": {"name": "pinkSpikes"}, "mark": {"type": "rule", "color": "#df57fb", "strokeWidth": 2.5, "clip": true},
 "encoding": {"y": {"field": "lo"}, "y2": {"field": "hi"}}},
{"data": {"name": "purpleLine"}, "mark": {"type": "line", "color": "#9933ff", "strokeWidth": 3.5, "clip": true}},
{"data": {"name": "purpleBand"}, "mark": {"type": "area", "color": "#9933ff", "opacity": 1, "clip": true},
 "encoding": {"y": {"field": "lo"}, "y2": {"field": "hi"}}},
{"data": {"name": "purpleSpikes"}, "mark": {"type": "rule", "color": "#9933ff", "strokeWidth": 3, "clip": true},
 "encoding": {"y": {"field": "lo"}, "y2": {"field": "hi"}}},
{"data": {"name": "coating"}, "mark": {"type": "line", "color": "#ff0000", "strokeWidth": 2.8, "clip": true}},
{"data": {"name": "alpha"}, "mark": {"type": "line", "color": "#1f77b4", "strokeWidth": 6, "clip": true}},
{"data": {"name": "alphaIR"}, "mark": {"type": "line", "color": "#ff7f0e", "strokeWidth": 6, "clip": true}},
{"data": {"name": "total"}, "mark": {"type": "line", "color": "#000000", "strokeWidth": 9, "strokeJoin": "round", "strokeCap": "round", "clip": true}},
{"data": {"name": "quantum"}, "mark": {"type": "line", "color": "#bf00bf", "strokeWidth": 3.5, "strokeJoin": "round", "clip": true}},
{"data": {"name": "seismic"}, "mark": {"type": "line", "color": "#a52a2a", "strokeWidth": 3, "clip": true}},
{"data": {"name": "susp"}, "mark": {"type": "line", "color": "#0000ff", "strokeWidth": 3, "clip": true}},
{"data": {"name": "arrows"}, "transform": [{"filter": "datum.id == 'L1'"}], "mark": {"type": "rule", "color": "#9933ff", "strokeWidth": 5, "strokeCap": "round"},
 "encoding": {"x2": {"field": "f2"}, "y2": {"field": "h2"}}},
{"data": {"name": "arrows"}, "transform": [{"filter": "datum.id != 'L1'"}], "mark": {"type": "rule", "color": "#df57fb", "strokeWidth": 4.5, "strokeCap": "round"},
 "encoding": {"x2": {"field": "f2"}, "y2": {"field": "h2"}}},
{"data": {"name": "notes"}, "transform": [{"filter": "datum.id == 'L1'"}], "mark": {"type": "text", "font": "DejaVu Sans", "fontWeight": "bold", "fontSize": 43, "color": "#9933ff", "align": "center", "baseline": "alphabetic"}, "encoding": {"text": {"field": "t"}}},
{"data": {"name": "notes"}, "transform": [{"filter": "datum.id == 'DCPD'"}], "mark": {"type": "text", "font": "DejaVu Sans", "fontWeight": "bold", "fontSize": 40, "color": "#df57fb", "align": "center", "baseline": "alphabetic"}, "encoding": {"text": {"field": "t"}}},
{"data": {"name": "notes"}, "transform": [{"filter": "datum.id == 'UGF'"}], "mark": {"type": "text", "font": "DejaVu Sans", "fontSize": 40, "color": "#df57fb", "align": "left", "baseline": "alphabetic"}, "encoding": {"text": {"field": "t"}}},
{"data": {"name": "notes"}, "transform": [{"filter": "datum.id == 'coat'"}], "mark": {"type": "text", "font": "DejaVu Sans", "fontWeight": "bold", "fontSize": 40, "color": "#ff0000", "align": "center", "baseline": "alphabetic", "angle": 12}, "encoding": {"text": {"field": "t"}}},
{"data": {"name": "notes"}, "transform": [{"filter": "datum.id == 'a1'"}], "mark": {"type": "text", "font": "DejaVu Sans", "fontWeight": "bold", "fontSize": 38, "color": "#1f77b4", "align": "left", "baseline": "alphabetic"}, "encoding": {"text": {"field": "t"}}},
{"data": {"name": "notes"}, "transform": [{"filter": "datum.id == 'a2'"}], "mark": {"type": "text", "font": "DejaVu Sans", "fontWeight": "bold", "fontSize": 38, "color": "#ff7f0e", "align": "left", "baseline": "alphabetic"}, "encoding": {"text": {"field": "t"}}},
{"data": {"name": "notes"}, "transform": [{"filter": "datum.id == 'gw'"}], "mark": {"type": "text", "font": "DejaVu Sans", "fontWeight": "bold", "fontSize": 40, "color": "#000000", "align": "left", "baseline": "alphabetic"}, "encoding": {"text": {"field": "t"}}},
{"data": {"name": "notes"}, "transform": [{"filter": "datum.id == 'page'"}], "mark": {"type": "text", "font": "Lato", "fontWeight": 300, "fontSize": 72, "color": "#8c8c8c", "align": "center", "baseline": "alphabetic"}, "encoding": {"text": {"field": "t"}}}
]
}
